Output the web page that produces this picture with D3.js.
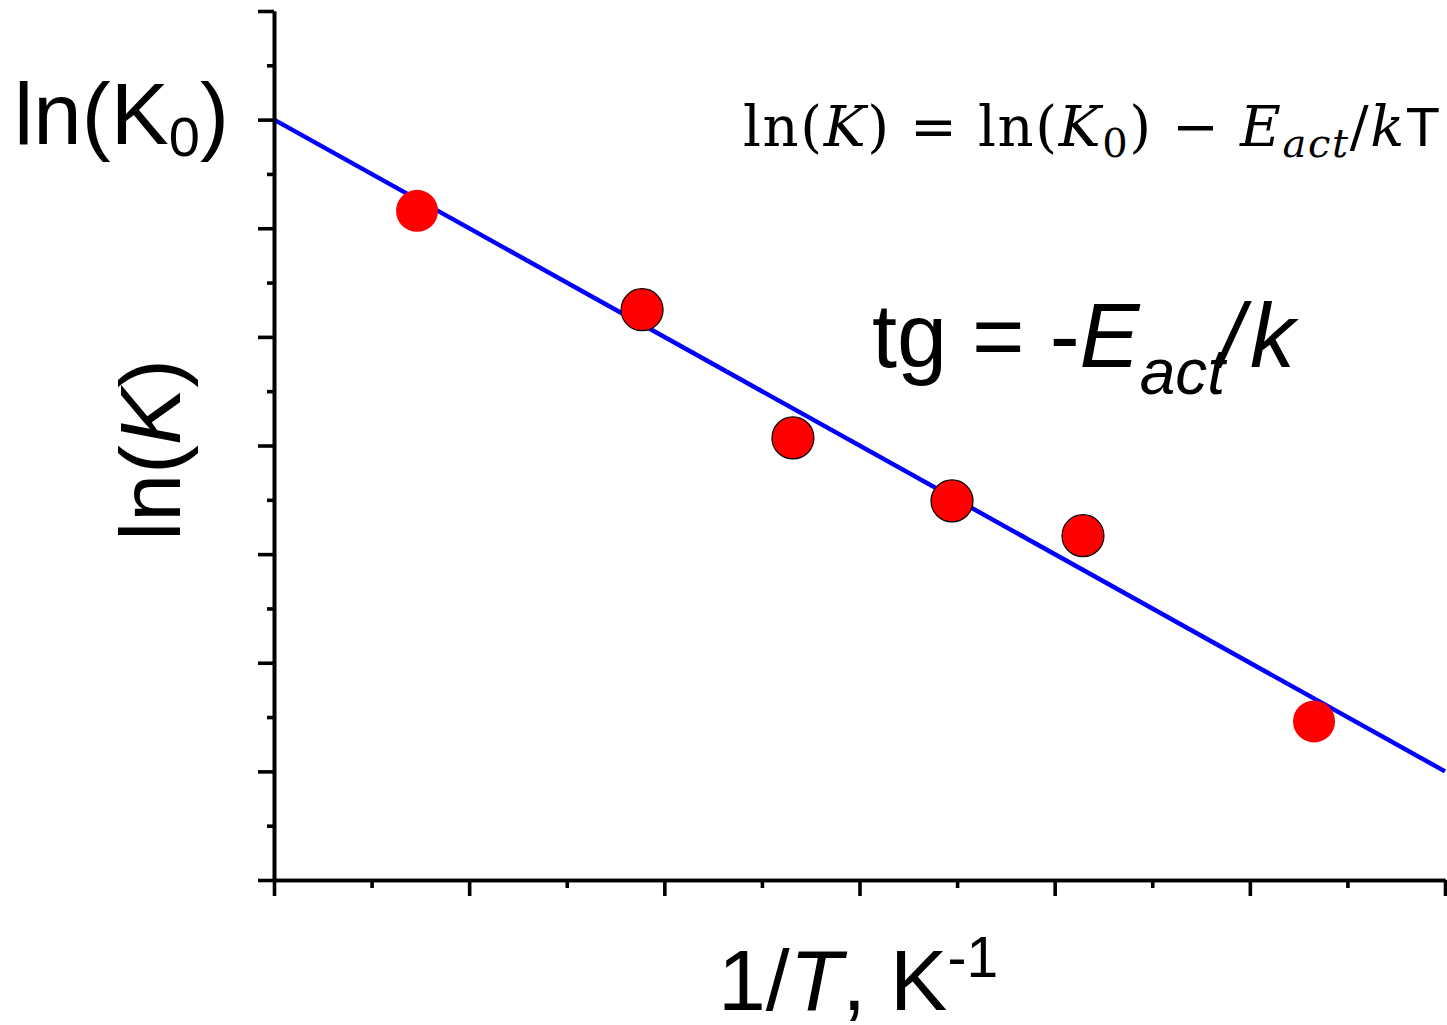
<!DOCTYPE html>
<html>
<head>
<meta charset="utf-8">
<script src="https://cdn.jsdelivr.net/npm/d3@7"></script>
<style>
  html, body { margin: 0; padding: 0; background: #fff; }
  svg { display: block; }
</style>
</head>
<body>
<svg id="chart" width="1447" height="1025"></svg>
<script>
// ---- data ----
const invT   = [0.733, 1.886, 2.659, 3.474, 4.145, 5.329];   // 1/T (arbitrary units)
const lnK    = [6.16, 5.25, 4.07, 3.49, 3.17, 1.46];         // ln(K)
const fitX   = [0, 6];
const fitY   = [7, 1];                                       // ln(K0) - Eact/k * x
const xMajorTicks = [0, 1, 2, 3, 4, 5, 6];
const xMinorTicks = [0.5, 1.5, 2.5, 3.5, 4.5, 5.5];
const yMajorTicks = [0, 1, 2, 3, 4, 5, 6, 7, 8];
const yMinorTicks = [0.5, 1.5, 2.5, 3.5, 4.5, 5.5, 6.5, 7.5];
const outlined = [false, true, true, true, true, false];

const svg = d3.select("#chart");
const x = d3.scaleLinear().domain([0, 6]).range([274, 1445]);
const y = d3.scaleLinear().domain([0, 8]).range([880, 11]);

const SANS = "'Liberation Sans', Arial, sans-serif";
const SERIF = "'DejaVu Serif', 'Liberation Serif', serif";

// fit line
svg.append("line")
  .attr("x1", x(fitX[0])).attr("y1", y(fitY[0]))
  .attr("x2", x(fitX[1])).attr("y2", y(fitY[1]))
  .attr("stroke", "#0000ff").attr("stroke-width", 4.5);

// axes
function styleAxis(g) {
  g.selectAll("path, line").attr("stroke", "#000").attr("stroke-width", 3.6);
  g.selectAll("text").remove();
}
svg.append("g").attr("transform", `translate(0,${y(0)})`)
  .call(d3.axisBottom(x).tickValues(xMinorTicks).tickSize(8).tickSizeOuter(0).tickFormat(""))
  .call(styleAxis);
svg.append("g").attr("transform", `translate(0,${y(0)})`)
  .call(d3.axisBottom(x).tickValues(xMajorTicks).tickSize(16).tickSizeOuter(0).tickFormat(""))
  .call(styleAxis);
svg.append("g").attr("transform", `translate(${x(0)},0)`)
  .call(d3.axisLeft(y).tickValues(yMinorTicks).tickSize(7).tickSizeOuter(0).tickFormat(""))
  .call(styleAxis);
svg.append("g").attr("transform", `translate(${x(0)},0)`)
  .call(d3.axisLeft(y).tickValues(yMajorTicks).tickSize(16).tickSizeOuter(0).tickFormat(""))
  .call(styleAxis);

// points
svg.append("g").selectAll("circle")
  .data(invT.map((v, i) => ({x: v, y: lnK[i], o: outlined[i]})))
  .join("circle")
  .attr("cx", d => x(d.x)).attr("cy", d => y(d.y)).attr("r", 21)
  .attr("fill", "#ff0000")
  .attr("stroke", d => d.o ? "#000" : "none")
  .attr("stroke-width", 1.2);

// ln(K0) label at top-left
const t1 = svg.append("text").attr("x", 14).attr("y", 144)
  .attr("font-family", SANS).attr("font-size", 87).attr("fill", "#000");
t1.append("tspan").text("ln(K");
t1.append("tspan").attr("font-size", 56).attr("dy", 12).text("0");
t1.append("tspan").attr("dy", -12).text(")");

// y-axis title
const yl = svg.append("text")
  .attr("transform", "translate(180,450) rotate(-90)")
  .attr("text-anchor", "middle")
  .attr("font-family", SANS).attr("font-size", 86).attr("fill", "#000");
yl.append("tspan").text("ln(");
yl.append("tspan").attr("font-style", "italic").text("K");
yl.append("tspan").text(")");

// x-axis title
const xl = svg.append("text").attr("x", 718).attr("y", 1010)
  .attr("font-family", SANS).attr("font-size", 86).attr("fill", "#000");
xl.append("tspan").text("1/");
xl.append("tspan").attr("font-style", "italic").text("T");
xl.append("tspan").text(", K");
xl.append("tspan").attr("font-size", 57).attr("dy", -33).text("-1");

// tg = -Eact/k
const tg = svg.append("text").attr("x", 872).attr("y", 367)
  .attr("font-family", SANS).attr("font-size", 90).attr("fill", "#000");
tg.append("tspan").text("tg = -");
tg.append("tspan").attr("font-style", "italic").text("E");
tg.append("tspan").attr("font-style", "italic").attr("font-size", 64).attr("dy", 27).text("act");
tg.append("tspan").attr("font-style", "italic").attr("dy", -27).attr("dx", -6).text("/");
tg.append("tspan").attr("font-style", "italic").attr("dx", 6).text("k");

// formula
const f = svg.append("text").attr("x", 743).attr("y", 146)
  .attr("font-family", SERIF).attr("font-size", 56).attr("fill", "#000")
  .attr("textLength", 697).attr("lengthAdjust", "spacing");
f.append("tspan").text("ln(");
f.append("tspan").attr("font-style", "italic").text("K");
f.append("tspan").text(") = ln(");
f.append("tspan").attr("font-style", "italic").text("K");
f.append("tspan").attr("font-size", 40).attr("dy", 11).text("0");
f.append("tspan").attr("dy", -11).text(") \u2212 ");
f.append("tspan").attr("font-style", "italic").text("E");
f.append("tspan").attr("font-style", "italic").attr("font-size", 40).attr("dy", 11).text("act");
f.append("tspan").attr("dy", -11).text("/");
f.append("tspan").attr("font-style", "italic").text("k");
f.append("tspan").attr("font-family", SANS).attr("font-size", 56).text("T");
</script>
</body>
</html>
